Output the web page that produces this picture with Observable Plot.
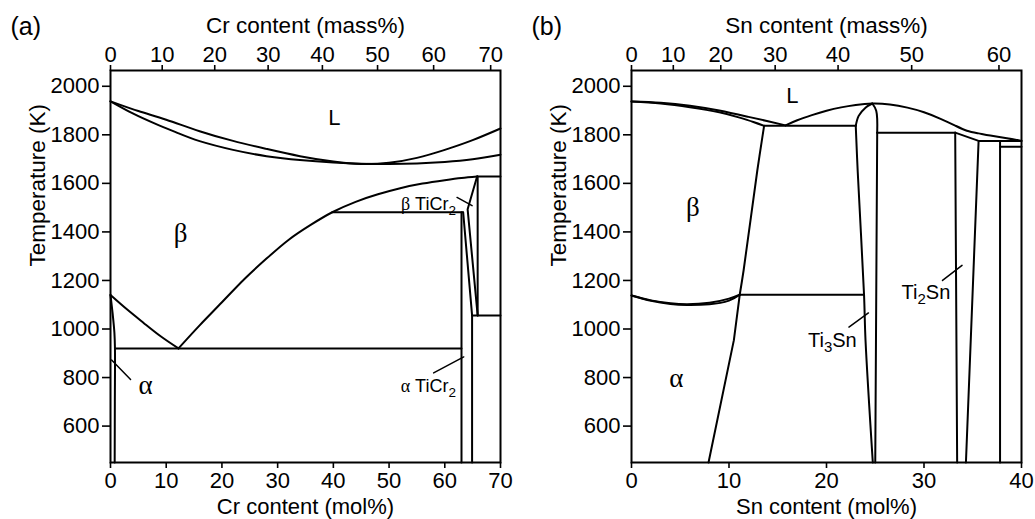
<!DOCTYPE html>
<html>
<head>
<meta charset="utf-8">
<script src="https://cdn.jsdelivr.net/npm/d3@7"></script>
<script src="https://cdn.jsdelivr.net/npm/@observablehq/plot@0.6"></script>
<style>
  body { margin: 0; background: #fff; }
  #charts { display: flex; width: 1035px; height: 519px; }
  #charts svg { flex: none; }
</style>
</head>
<body>
<div id="charts"></div>
<script>
// ---------- axes ----------
const tempTicks = [600, 800, 1000, 1200, 1400, 1600, 1800, 2000];
const crMolTicks = [0, 10, 20, 30, 40, 50, 60, 70];
const crMassTicks = [0, 10, 20, 30, 40, 50, 60, 70];
const snMolTicks = [0, 10, 20, 30, 40];
const snMassTicks = [0, 10, 20, 30, 40, 50, 60];

// atomic masses, used to place the mass% ticks on the mol% scale
const massTi = 47.867, massCr = 51.996, massSn = 118.71;

// ---------- (a) Ti–Cr : [Cr mol%, T (K)] ----------
const crLiquidus = [[0,1938],[5,1898],[10,1862],[16,1815],[22,1775],[28,1742],[34,1712],[40,1690],[45,1680],[50,1685],[55,1705],[60,1738],[65,1778],[70,1826]];
const crSolidus = [[0,1938],[4,1888],[8,1846],[12,1808],[16,1774],[22,1738],[28,1712],[34,1696],[40,1686],[45,1681],[50,1680],[55,1682],[60,1688],[65,1699],[70,1718]];
const crBetaLeft = [[0,1140],[3,1080],[6,1024],[9,970],[12.2,920]];
const crBetaRight = [[12.2,920],[16,1015],[20,1110],[24,1205],[28,1290],[32,1368],[36,1430],[39.8,1481],[44,1524],[48,1555],[52,1580],[56,1599],[60,1613],[63,1622],[65.8,1628]];
const crAlphaSolvus = [[0,1140],[0.4,1060],[0.7,985],[0.8,920],[0.78,700],[0.75,450]];
const crEutectoid = [[0.8,920],[63,920]];
const crPeritectoid = [[39.8,1481],[63.2,1481]];
const crLaves1 = [[63.0,1481],[63.0,450]];
const crLaves2 = [[63.3,1481],[64.9,1056],[64.9,450]];
const crLaves3 = [[65.8,1628],[64.1,1493],[65.9,1056]];
const crLaves4 = [[65.9,1628],[65.9,1056]];
const crTopLine = [[65.8,1628],[70,1628]];
const crLowLine = [[64.9,1056],[70,1056]];

const crLabels = [
  {text: "L", x: 40.2, y: 1868, kind: "sans"},
  {text: "β TiCr_2", x: 62.0, y: 1516, kind: "small"},
  {text: "α TiCr_2", x: 62.0, y: 765, kind: "small"}
];
const crGreek = [
  {text: "β", x: 12.6, y: 1392},
  {text: "α", x: 6.3, y: 769}
];
const crLeaders = [
  [[0.2,872],[3.6,792]],
  [[62.2,1542],[64.9,1508]],
  [[58.0,819],[63.4,885]]
];

// ---------- (b) Ti–Sn : [Sn mol%, T (K)] ----------
const snLiquidusLeft = [[0,1937],[3,1932],[6,1920],[9,1900],[12,1874],[14,1856],[15.8,1839]];
const snSolidusLeft = [[0,1937],[3,1929],[6,1914],[9,1893],[11,1872],[12.5,1853],[13.6,1837]];
const snLiquidusRight = [[15.8,1839],[17,1860],[18.5,1881],[20,1899],[21.5,1913],[23,1923],[24.7,1929],[26.5,1925],[28.3,1912],[30,1893],[31.7,1866],[33.2,1838],[34.4,1817],[35.6,1806],[36.8,1797],[38.5,1786],[40,1775]];
const snEutectic = [[13.6,1837],[23.0,1837]];
const snTi3SnTop = [[23.0,1837],[23.3,1878],[24.0,1912],[24.7,1929]];
const snTi3SnLeft = [[23.0,1837],[23.2,1650],[23.85,1141],[24.0,955],[24.75,450]];
const snTi3SnCap = [[24.7,1929],[25.1,1899],[25.2,1809]];
const snTi3SnRight = [[25.2,1809],[25.0,450]];
const snPeritectic = [[25.2,1809],[33.2,1809]];
const snTi2SnLeft = [[33.2,1809],[33.4,450]];
const snTi2SnRight = [[33.2,1809],[35.6,1775],[34.3,450]];
const snTopLine = [[35.6,1775],[40,1775]];
const snLine37 = [[37.8,1775],[37.8,450]];
const snLine1751 = [[37.8,1751],[40,1751]];
const snBetaUpper = [[0,1138],[2,1118],[4,1106],[5.7,1102],[8,1108],[10,1125],[11.1,1141]];
const snBetaLower = [[0,1138],[2,1116],[4,1103],[5.7,1099],[8,1102],[10,1117],[11.1,1141]];
const snBetaSolvus = [[11.1,1141],[11.5,1242],[12.9,1652],[13.6,1837]];
const snAlphaSolvus = [[7.9,450],[10.5,954],[11.1,1141]];
const snEutectoid = [[11.1,1141],[23.85,1141]];

const snLabels = [
  {text: "L", x: 16.5, y: 1960, kind: "sans"},
  {text: "Ti_3Sn", x: 20.6, y: 954, kind: "mid"},
  {text: "Ti_2Sn", x: 30.2, y: 1150, kind: "mid"}
];
const snGreek = [
  {text: "β", x: 6.3, y: 1501},
  {text: "α", x: 4.6, y: 796}
];
const snLeaders = [
  [[22.3,1008],[24.3,1066]],
  [[31.9,1200],[33.9,1262]]
];

// ---------- drawing ----------
const FONT = "'Liberation Sans', Arial, Helvetica, sans-serif";
const SERIF = "'Liberation Serif', 'Times New Roman', serif";

function molFromMass(m, mB) {
  const a = m / mB, b = (100 - m) / massTi;
  return 100 * a / (a + b);
}
function massFromMol(x, mB) {
  const a = x * mB, b = (100 - x) * massTi;
  return 100 * a / (a + b);
}

function panel({width, marginRight, xMax, molTicks, massTicks, mB, element, tag, series, labels, greek, leaders}) {
  const pt = (d) => ({x: d[0], y: d[1]});
  const marks = [
    Plot.frame({stroke: "black", strokeWidth: 2}),
    Plot.axisX({anchor: "bottom", ticks: molTicks, tickSize: 6, tickPadding: 4, strokeWidth: 1.6, label: null, tickFormat: d => String(d)}),
    Plot.axisX({anchor: "top", ticks: massTicks.map(m => molFromMass(m, mB)), tickSize: 6, tickPadding: 3, strokeWidth: 1.6, label: null,
      tickFormat: d => String(Math.round(massFromMol(d, mB)))}),
    Plot.axisY({anchor: "left", ticks: tempTicks, tickSize: 8, tickPadding: 3, strokeWidth: 1.6, label: null, tickFormat: d => String(d)}),
    Plot.text([`${element} content (mass%)`], {frameAnchor: "top", lineAnchor: "middle", dy: -45, text: d => d, fontSize: 22.5}),
    Plot.text([`${element} content (mol%)`], {frameAnchor: "bottom", lineAnchor: "middle", dy: 44, text: d => d, fontSize: 22}),
    Plot.text(["Temperature (K)"], {frameAnchor: "left", lineAnchor: "middle", rotate: -90, dx: -73, text: d => d, fontSize: 22.5}),
    Plot.text([tag], {frameAnchor: "top-left", lineAnchor: "middle", dx: -100, dy: -44, textAnchor: "start", text: d => d, fontSize: 25})
  ];
  for (const [data, curve] of series) {
    marks.push(Plot.line(data.map(pt), {x: "x", y: "y", curve, stroke: "black", strokeWidth: 2}));
  }
  for (const seg of leaders) {
    marks.push(Plot.line(seg.map(pt), {x: "x", y: "y", stroke: "black", strokeWidth: 1.5}));
  }
  marks.push(Plot.text(greek, {x: "x", y: "y", text: "text", fontFamily: SERIF, fontSize: 27}));
  marks.push(Plot.text(labels.filter(d => d.kind === "sans"), {x: "x", y: "y", text: "text", fontSize: 22}));
  marks.push(Plot.text(labels.filter(d => d.kind === "small"), {x: "x", y: "y", text: "text", fontSize: 18, textAnchor: "end"}));
  marks.push(Plot.text(labels.filter(d => d.kind === "mid"), {x: "x", y: "y", text: "text", fontSize: 20}));

  const svg = Plot.plot({
    width, height: 519,
    marginTop: 70, marginBottom: 57, marginLeft: 110, marginRight,
    x: {domain: [0, xMax]},
    y: {domain: [450, 2065]},
    style: {fontFamily: FONT, fontSize: "22px", color: "black", background: "white", overflow: "visible"},
    marks
  });
  richText(svg);
  return svg;
}

// subscripts after "_" and serif Greek letters inside mixed labels
function richText(svg) {
  const NS = "http://www.w3.org/2000/svg";
  svg.querySelectorAll("text").forEach(node => {
    const s = node.textContent;
    if (!s.includes("_") || node.querySelector("tspan")) return;
    node.textContent = "";
    const re = /_(\d)|([αβ])|([^_αβ]+)/g;
    let m, shifted = false;
    while ((m = re.exec(s))) {
      const t = document.createElementNS(NS, "tspan");
      if (m[1]) {
        t.textContent = m[1];
        t.setAttribute("font-size", "0.75em");
        t.setAttribute("dy", "5");
        shifted = true;
      } else {
        t.textContent = m[2] || m[3];
        if (m[2]) t.setAttribute("font-family", SERIF);
        if (shifted) { t.setAttribute("dy", "-5"); shifted = false; }
      }
      node.appendChild(t);
    }
  });
}

const crSeries = [
  [crLiquidus, "natural"], [crSolidus, "natural"],
  [crBetaLeft, "natural"], [crBetaRight, "natural"],
  [crAlphaSolvus, "catmull-rom"], [crEutectoid, "linear"], [crPeritectoid, "linear"],
  [crLaves1, "linear"], [crLaves2, "linear"], [crLaves3, "linear"], [crLaves4, "linear"],
  [crTopLine, "linear"], [crLowLine, "linear"]
];
const snSeries = [
  [snLiquidusLeft, "natural"], [snSolidusLeft, "natural"], [snLiquidusRight, "natural"],
  [snEutectic, "linear"], [snTi3SnTop, "catmull-rom"], [snTi3SnLeft, "catmull-rom"],
  [snTi3SnCap, "catmull-rom"], [snTi3SnRight, "linear"],
  [snPeritectic, "linear"], [snTi2SnLeft, "linear"], [snTi2SnRight, "linear"],
  [snTopLine, "linear"], [snLine37, "linear"], [snLine1751, "linear"],
  [snBetaUpper, "natural"], [snBetaLower, "natural"],
  [snBetaSolvus, "catmull-rom"], [snAlphaSolvus, "linear"], [snEutectoid, "linear"]
];

const host = document.getElementById("charts");
host.appendChild(panel({
  width: 521, marginRight: 21, xMax: 70, molTicks: crMolTicks, massTicks: crMassTicks, mB: massCr,
  element: "Cr", tag: "(a)", series: crSeries, labels: crLabels, greek: crGreek, leaders: crLeaders
}));
host.appendChild(panel({
  width: 514, marginRight: 14, xMax: 40, molTicks: snMolTicks, massTicks: snMassTicks, mB: massSn,
  element: "Sn", tag: "(b)", series: snSeries, labels: snLabels, greek: snGreek, leaders: snLeaders
}));
</script>
</body>
</html>
